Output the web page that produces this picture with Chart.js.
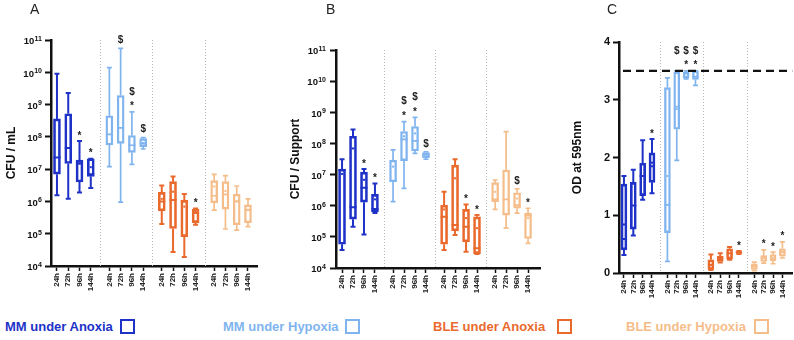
<!DOCTYPE html>
<html><head><meta charset="utf-8">
<script src="https://cdn.jsdelivr.net/npm/chart.js@4.4.1/dist/chart.umd.min.js"></script>
<style>
html,body{margin:0;padding:0;background:#fff;width:794px;height:340px;overflow:hidden;font-family:"Liberation Sans",Arial,sans-serif;}
canvas{position:absolute;top:0;}
.plab{position:absolute;top:1px;font-size:14px;line-height:16px;color:#222;}
.leg{position:absolute;top:319px;font-weight:bold;font-size:13px;line-height:16px;white-space:nowrap;}
.sq{position:absolute;top:319px;width:15px;height:15px;box-sizing:border-box;border:2px solid;}
</style></head><body>
<canvas id="cA" width="262" height="305" style="left:0px"></canvas>
<canvas id="cB" width="280" height="305" style="left:262px"></canvas>
<canvas id="cC" width="252" height="305" style="left:542px"></canvas>
<div class="plab" style="left:30px">A</div>
<div class="plab" style="left:326px">B</div>
<div class="plab" style="left:607px">C</div>
<div id="legend"></div>
<script>
const FONT = '"Liberation Sans", Arial, sans-serif';
const times = ['24h', '72h', '96h', '144h'];
const conditions = ['MM under Anoxia', 'MM under Hypoxia', 'BLE under Anoxia', 'BLE under Hypoxia'];
const colors = ['#1e32c8', '#80b4ee', '#ea6a2e', '#f5bd8a'];

// Panel A: CFU / mL  (order: each condition, times 24h..144h)
const A_min  = [1.55e6, 1.2e6, 1.9e6, 2.6e6, 1.2e7, 9.5e5, 1.4e7, 4.2e7, 2e5, 2.7e4, 1.9e4, 1.9e5, 5.4e5, 1.4e5, 1.3e5, 1.65e5];
const A_q1   = [7e6, 1.5e7, 4e6, 5.9e6, 5.6e7, 6.3e7, 3.3e7, 5e7, 5.1e5, 1.45e5, 8.1e4, 2.2e5, 9.1e5, 5.8e5, 1.9e5, 2.2e5];
const A_med  = [2.3e7, 4.5e7, 1.5e7, 7e6, 1.2e8, 1.9e8, 5.5e7, 6.3e7, 1e6, 1.1e6, 1.0e6, 4.4e5, 1.5e6, 1.66e6, 1.0e6, 5.5e5];
const A_q3   = [3.6e8, 5.2e8, 1.9e7, 2.1e7, 4.5e8, 1.9e9, 1.1e8, 8.8e7, 1.9e6, 4.1e6, 1.1e6, 5.8e5, 4.4e6, 4.1e6, 1.66e6, 7.8e5];
const A_max  = [9e9, 2.3e9, 7.4e7, 2.1e7, 1.4e10, 5.5e10, 5.9e8, 9.5e7, 3.1e6, 5.9e6, 1.7e6, 6e5, 6.9e6, 6.3e6, 3e6, 1.2e6];
const A_mean = [null, null, 1.5e7, 1.15e7, null, null, null, 6.5e7, 1.2e6, 2e6, 6.9e5, 4.9e5, 2.9e6, 2.1e6, 1.0e6, 5.5e5];
const A_marks = ['', '', '*', '*', '', '$', '$*', '$', '', '', '', '*', '', '', '', ''];

// Panel B: CFU / Support
const B_min  = [3.8e4, 2.1e5, 1.2e5, 5.8e5, 1.35e6, 3.6e6, 4.8e7, 3.1e7, 3.8e4, 1.15e5, 3.3e4, 2.8e4, 7.6e5, 1.9e5, 5.8e5, 6.2e4];
const B_q1   = [5.8e4, 3.7e5, 1.3e6, 6.3e5, 5.9e6, 2.8e7, 5.7e7, 3.5e7, 5.8e4, 1.55e5, 6.9e4, 2.9e4, 1.35e6, 5e5, 8.3e5, 8.9e4];
const B_med  = [1.4e7, 8.9e5, 3.8e6, 7.9e5, 6.3e6, 1.35e8, 1.2e8, 4.4e7, 4.4e5, 2.4e5, 2.1e5, 4.3e4, 1.6e6, 1.6e6, 1.05e6, 4.8e5];
const B_q3   = [1.5e7, 1.7e8, 1.2e7, 2.3e6, 2.9e7, 2.4e8, 3.5e8, 5.1e7, 1.05e6, 2.0e7, 7.6e5, 4.4e5, 5.5e6, 1.4e7, 2.6e6, 5.8e5];
const B_max  = [3.1e7, 2.8e8, 1.5e7, 5.2e6, 6.2e7, 5e8, 6.9e8, 5.4e7, 2.8e6, 3.1e7, 1.1e6, 5e5, 6.7e6, 2.4e8, 3.5e6, 8.3e5];
const B_mean = [1.05e7, 6.9e7, 6.8e6, 1.6e6, 1.8e7, 1.7e8, 2.1e8, null, 7.6e5, 7.6e6, 4e5, 1.9e5, 2.8e6, null, 1.7e6, 4e5];
const B_marks = ['', '', '*', '*', '', '$*', '$*', '$', '', '', '*', '*', '', '', '$', '*'];

// Panel C: OD at 595nm
const C_min  = [0.31, 0.65, 1.27, 1.38, 0.20, 1.95, 3.36, 3.25, 0.05, 0.18, 0.23, 0.33, 0.04, 0.17, 0.16, 0.26];
const C_q1   = [0.40, 0.76, 1.34, 1.57, 0.70, 2.49, 3.38, 3.35, 0.06, 0.20, 0.24, 0.34, 0.06, 0.20, 0.21, 0.29];
const C_med  = [0.59, 1.17, 1.68, 1.85, 1.18, 2.84, 3.45, 3.40, 0.14, 0.26, 0.34, 0.36, 0.12, 0.26, 0.26, 0.36];
const C_q3   = [1.54, 1.57, 1.90, 2.08, 3.21, 3.48, 3.48, 3.50, 0.23, 0.29, 0.42, 0.37, 0.16, 0.30, 0.32, 0.42];
const C_max  = [1.68, 1.79, 2.30, 2.32, 3.38, 3.50, 3.50, 3.50, 0.32, 0.34, 0.45, 0.38, 0.19, 0.40, 0.36, 0.54];
const C_mean = [0.84, null, null, 1.91, 1.68, 2.88, null, null, null, null, null, null, null, null, null, null];
const C_marks = ['', '', '', '*', '', '$_', '$*', '$*', '', '', '', '*', '', '*', '*', '*'];
const C_threshold = 3.5;

const logTicks = [1e4, 1e5, 1e6, 1e7, 1e8, 1e9, 1e10, 1e11];
const odTicks = [0, 1, 2, 3, 4];

// layout helpers
const GROUP_STEP = 4.65;
const xPos = (c, i) => c * GROUP_STEP + i;
const xPositions = [];
conditions.forEach((_, c) => times.forEach((_, i) => xPositions.push(xPos(c, i))));
const separators = [1, 2, 3].map(c => (c - 1) * GROUP_STEP + 3 + (GROUP_STEP - 3) / 2);
const lineW = [2, 1.7, 2, 1.7];
const CH = 305;

function makePanel(p) {
  const datasets = conditions.map((name, c) => ({
    label: name,
    data: times.map((t, i) => ({ x: xPos(c, i), y: [p.q1[c * 4 + i], p.q3[c * 4 + i]] })),
    borderColor: colors[c],
    backgroundColor: 'rgba(255,255,255,0)',
    borderWidth: lineW[c],
    borderSkipped: false,
    barThickness: p.bw,
    grouped: false
  }));
  const deco = {
    id: 'deco' + p.id,
    beforeDatasetsDraw(chart) {
      const { ctx, chartArea, scales: { x } } = chart;
      ctx.save();
      ctx.strokeStyle = '#b8b8b8'; ctx.lineWidth = 1; ctx.setLineDash([1, 2]);
      separators.forEach(s => {
        const px = Math.round(x.getPixelForValue(s)) + 0.5;
        ctx.beginPath(); ctx.moveTo(px, chartArea.top); ctx.lineTo(px, chartArea.bottom); ctx.stroke();
      });
      ctx.restore();
    },
    afterDatasetsDraw(chart) {
      const { ctx, chartArea, scales: { x, y } } = chart;
      ctx.save();
      ctx.setLineDash([]);
      conditions.forEach((_, c) => {
        times.forEach((_, i) => {
          const k = c * 4 + i;
          const px = x.getPixelForValue(xPos(c, i));
          const yMin = y.getPixelForValue(p.min[k]), yMax = y.getPixelForValue(p.max[k]);
          const yQ1 = y.getPixelForValue(p.q1[k]), yQ3 = y.getPixelForValue(p.q3[k]);
          const yMed = y.getPixelForValue(p.med[k]);
          const hw = p.bw / 2, cw = p.cap;
          ctx.strokeStyle = colors[c]; ctx.fillStyle = colors[c]; ctx.lineWidth = lineW[c];
          ctx.beginPath();
          if (yMax < yQ3 - 0.5) { ctx.moveTo(px, yQ3); ctx.lineTo(px, yMax); }
          if (yMin > yQ1 + 0.5) { ctx.moveTo(px, yQ1); ctx.lineTo(px, yMin); }
          ctx.moveTo(px - cw, yMax); ctx.lineTo(px + cw, yMax);
          ctx.moveTo(px - cw, yMin); ctx.lineTo(px + cw, yMin);
          ctx.moveTo(px - hw, yMed); ctx.lineTo(px + hw, yMed);
          ctx.stroke();
          if (p.mean[k] != null) {
            const ym = y.getPixelForValue(p.mean[k]);
            ctx.fillRect(px - 1, ym - 1, 2, 2);
          }
          const m = p.marks[k];
          if (m) {
            ctx.fillStyle = '#222';
            ctx.font = 'bold 10px ' + FONT;
            ctx.textAlign = 'center'; ctx.textBaseline = 'alphabetic';
            const rows = m.split('').reverse();
            let yc = yMax - 9;
            rows.forEach(ch => {
              if (ch === '*') ctx.fillText('*', px, yc + 6.5);
              else if (ch === '$') ctx.fillText('$', px, yc + 3.8);
              yc -= 12;
            });
          }
        });
      });
      if (p.threshold != null) {
        const yy = y.getPixelForValue(p.threshold);
        ctx.strokeStyle = '#111'; ctx.lineWidth = 2.2; ctx.setLineDash([8, 5]);
        ctx.beginPath(); ctx.moveTo(chartArea.left + 4, yy); ctx.lineTo(chartArea.right, yy); ctx.stroke();
        ctx.setLineDash([]);
      }
      ctx.restore();
    },
    afterDraw(chart) {
      if (p.ytype !== 'logarithmic') return;
      const { ctx, chartArea, scales: { y } } = chart;
      ctx.save();
      ctx.fillStyle = '#111'; ctx.textAlign = 'right'; ctx.textBaseline = 'alphabetic';
      p.yTicks.forEach(v => {
        const e = String(Math.round(Math.log10(v)));
        const yy = y.getPixelForValue(v);
        const right = chartArea.left - p.labGap;
        ctx.font = 'bold 7px ' + FONT;
        ctx.fillText(e, right, yy + 0.8);
        const ew = ctx.measureText(e).width;
        ctx.font = 'bold 9.5px ' + FONT;
        ctx.fillText('10', right - ew - 0.3, yy + 4.3);
      });
      ctx.restore();
    }
  };
  new Chart(document.getElementById(p.id), {
    type: 'bar',
    data: { datasets },
    options: {
      responsive: false, animation: false, devicePixelRatio: 1,
      layout: { padding: { left: 0, right: p.padR, top: p.top, bottom: 0 } },
      plugins: { legend: { display: false }, tooltip: { enabled: false } },
      scales: {
        x: {
          type: 'linear', min: p.xmin, max: p.xmax, offset: false,
          afterBuildTicks: s => { s.ticks = xPositions.map(v => ({ value: v })); },
          afterFit: s => { s.height = CH - p.bottom; },
          grid: { display: true, drawOnChartArea: false, drawTicks: true, tickLength: 5, tickWidth: 1.5, tickColor: '#111', offset: false },
          border: { display: true, color: '#111', width: 2.5 },
          ticks: { autoSkip: false, maxRotation: 90, minRotation: 90, padding: 2,
                   font: { size: 8, weight: 'bold', family: FONT }, color: '#222',
                   callback: (v, i) => times[i % 4] }
        },
        y: {
          type: p.ytype, min: p.ymin, max: p.ymax,
          afterBuildTicks: s => { s.ticks = p.yTicks.map(v => ({ value: v })); },
          afterFit: s => { s.width = p.axisW; },
          grid: { display: true, drawOnChartArea: false, drawTicks: true, tickLength: 6, tickWidth: 2, tickColor: '#111' },
          border: { display: true, color: '#111', width: 2.5 },
          ticks: { display: p.ytype !== 'logarithmic', padding: 3, font: { size: 11, weight: 'bold', family: FONT }, color: '#111' },
          title: { display: true, text: p.title, color: '#111', font: { size: 12, weight: 'bold', family: FONT }, padding: { top: p.titlePad, bottom: 0 } }
        }
      }
    },
    plugins: [deco]
  });
}

makePanel({ id: 'cA', ytype: 'logarithmic', ymin: 1e4, ymax: 1e11, yTicks: logTicks, title: 'CFU / mL', titlePad: 4,
  top: 40, bottom: 266, axisW: 51, padR: 5, xmin: -0.53, xmax: 17.75, bw: 7, cap: 2.5, labGap: 9,
  min: A_min, q1: A_q1, med: A_med, q3: A_q3, max: A_max, mean: A_mean, marks: A_marks });
makePanel({ id: 'cB', ytype: 'logarithmic', ymin: 1e4, ymax: 1e11, yTicks: logTicks, title: 'CFU / Support', titlePad: 26,
  top: 50, bottom: 268, axisW: 74, padR: 2, xmin: -0.55, xmax: 18.04, bw: 7, cap: 2.5, labGap: 10,
  min: B_min, q1: B_q1, med: B_med, q3: B_q3, max: B_max, mean: B_mean, marks: B_marks });
makePanel({ id: 'cC', ytype: 'linear', ymin: 0, ymax: 4, yTicks: odTicks, title: 'OD at 595nm', titlePad: 28,
  top: 42, bottom: 273, axisW: 77, padR: 0, xmin: -0.53, xmax: 18.0, bw: 6, cap: 2.5, labGap: 9, threshold: C_threshold,
  min: C_min, q1: C_q1, med: C_med, q3: C_q3, max: C_max, mean: C_mean, marks: C_marks });

// legend
const legTextX = [5, 223, 433, 626];
const legSqX = [120, 345, 557, 754];
const leg = document.getElementById('legend');
conditions.forEach((name, c) => {
  const t = document.createElement('div');
  t.className = 'leg'; t.style.left = legTextX[c] + 'px'; t.style.color = colors[c]; t.textContent = name;
  leg.appendChild(t);
  const s = document.createElement('div');
  s.className = 'sq'; s.style.left = legSqX[c] + 'px'; s.style.borderColor = colors[c];
  leg.appendChild(s);
});
</script>
</body></html>
